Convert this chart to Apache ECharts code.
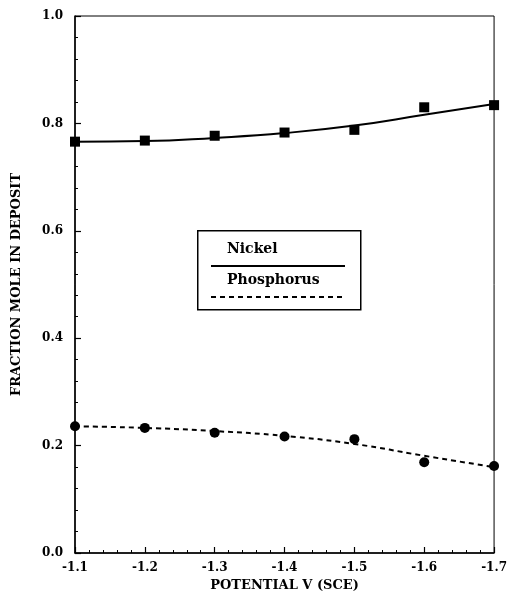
<!DOCTYPE html>
<html>
<head>
<meta charset="utf-8">
<script src="https://cdn.jsdelivr.net/npm/echarts@6/dist/echarts.min.js"></script>
<style>
  html, body { margin: 0; padding: 0; background: #fff; }
  #chart { width: 510px; height: 597px; }
</style>
</head>
<body>
<div id="chart"></div>
<script>
// potentials (V vs SCE)
const potentials = [-1.1, -1.2, -1.3, -1.4, -1.5, -1.6, -1.7];

// measured mole fractions
const nickelPoints = [0.766, 0.768, 0.777, 0.783, 0.788, 0.830, 0.834];
const phosphorusPoints = [0.236, 0.233, 0.224, 0.217, 0.212, 0.169, 0.162];

// fitted curves, read at each potential
const nickelFit = [0.766, 0.767, 0.773, 0.782, 0.796, 0.816, 0.836];
const phosphorusFit = [0.236, 0.233, 0.227, 0.218, 0.203, 0.181, 0.160];

const xTicks = ['-1.1', '-1.2', '-1.3', '-1.4', '-1.5', '-1.6', '-1.7'];
const yTicks = ['0.0', '0.2', '0.4', '0.6', '0.8', '1.0'];

const pair = (xs, ys) => xs.map((x, i) => [x, ys[i]]);
const font = '"DejaVu Serif", "Liberation Serif", serif';

const chart = echarts.init(document.getElementById('chart'));

chart.setOption({
  animation: false,
  backgroundColor: '#fff',
  grid: {
    left: 75, right: 11, top: 16, bottom: 38,
    show: true, borderColor: '#000', borderWidth: 1
  },
  xAxis: {
    type: 'value',
    inverse: true,
    min: -1.7, max: -1.1, interval: 0.1,
    axisLine: { lineStyle: { color: '#000', width: 1.5 } },
    axisTick: { inside: true, length: 6, lineStyle: { color: '#000', width: 1.2 } },
    minorTick: { show: true, splitNumber: 5, length: 3, lineStyle: { color: '#000' } },
    splitLine: { show: false },
    axisLabel: {
      color: '#000', fontFamily: font, fontWeight: 'bold', fontSize: 12, margin: 9,
      formatter: v => xTicks[Math.round((-1.1 - v) * 10)]
    },
    name: 'POTENTIAL V (SCE)',
    nameLocation: 'middle',
    nameGap: 26,
    nameTextStyle: { color: '#000', fontFamily: font, fontWeight: 'bold', fontSize: 13 }
  },
  yAxis: {
    type: 'value',
    min: 0, max: 1.0, interval: 0.2,
    axisLine: { lineStyle: { color: '#000', width: 1.5 } },
    axisTick: { inside: true, length: 6, lineStyle: { color: '#000', width: 1.2 } },
    minorTick: { show: true, splitNumber: 5, length: 3, lineStyle: { color: '#000' } },
    splitLine: { show: false },
    axisLabel: {
      color: '#000', fontFamily: font, fontWeight: 'bold', fontSize: 12, margin: 12,
      formatter: v => yTicks[Math.round(v * 5)]
    },
    name: 'FRACTION MOLE IN DEPOSIT',
    nameLocation: 'middle',
    nameGap: 52,
    nameTextStyle: { color: '#000', fontFamily: font, fontWeight: 'bold', fontSize: 13 }
  },
  series: [
    {
      name: 'Nickel fit', type: 'line', smooth: true, showSymbol: false,
      data: pair(potentials, nickelFit),
      lineStyle: { color: '#000', width: 2 }
    },
    {
      name: 'Phosphorus fit', type: 'line', smooth: true, showSymbol: false,
      data: pair(potentials, phosphorusFit),
      lineStyle: { color: '#000', width: 2, type: [5, 4] }
    },
    {
      name: 'Nickel', type: 'scatter', symbol: 'rect', symbolSize: 10,
      data: pair(potentials, nickelPoints),
      itemStyle: { color: '#000', opacity: 1 }
    },
    {
      name: 'Phosphorus', type: 'scatter', symbol: 'circle', symbolSize: 10,
      data: pair(potentials, phosphorusPoints),
      itemStyle: { color: '#000', opacity: 1 }
    }
  ],
  graphic: [
    {
      type: 'rect', left: 197, top: 230,
      shape: { width: 163, height: 79 },
      style: { fill: '#fff', stroke: '#000', lineWidth: 1.5 }
    },
    {
      type: 'text', left: 227, top: 242,
      style: { text: 'Nickel', fill: '#000', font: 'bold 14px ' + font }
    },
    {
      type: 'line', shape: { x1: 211, y1: 266, x2: 345, y2: 266 },
      style: { stroke: '#000', lineWidth: 2 }
    },
    {
      type: 'text', left: 227, top: 273,
      style: { text: 'Phosphorus', fill: '#000', font: 'bold 14px ' + font }
    },
    {
      type: 'line', shape: { x1: 211, y1: 297, x2: 345, y2: 297 },
      style: { stroke: '#000', lineWidth: 2, lineDash: [5, 4] }
    }
  ]
});
</script>
</body>
</html>
